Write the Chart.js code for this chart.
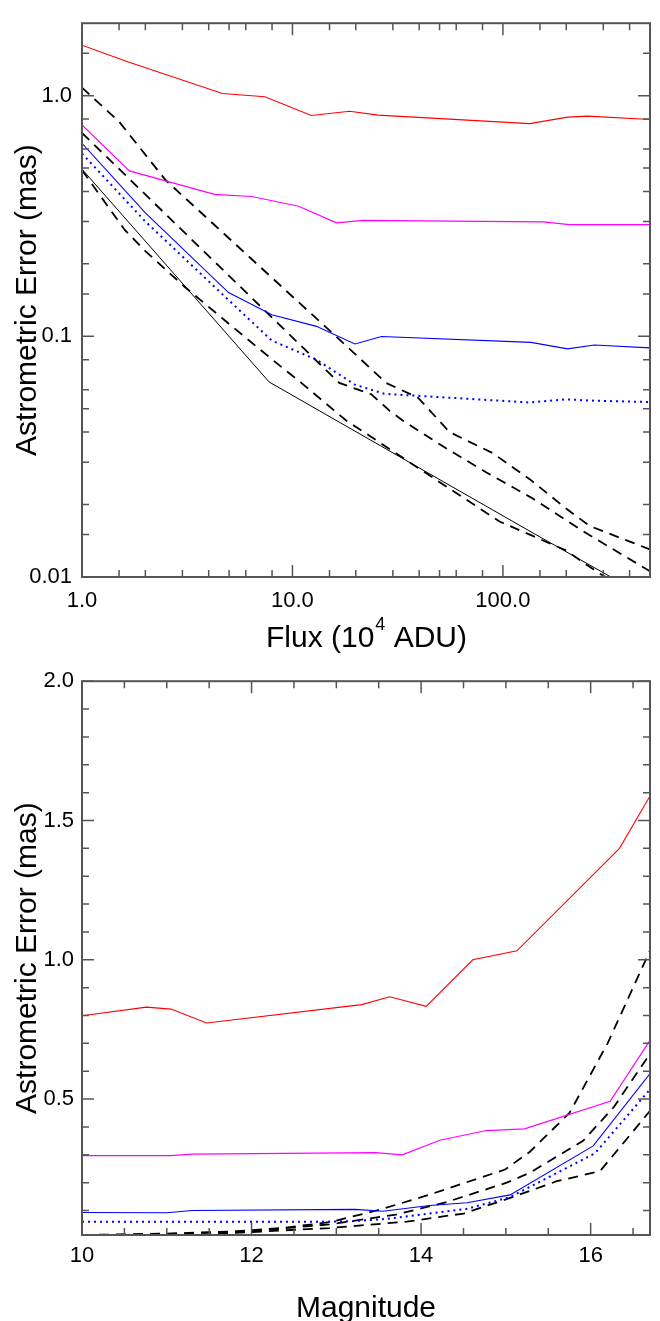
<!DOCTYPE html>
<html>
<head>
<meta charset="utf-8">
<title>Astrometric error vs flux and magnitude</title>
<script src="https://cdn.jsdelivr.net/npm/chart.js@4.4.1/dist/chart.umd.min.js"></script>
<style>
  html, body { margin: 0; padding: 0; background: #fff; overflow: hidden; width: 660px; height: 1321px; }
  #fluxChart { position: absolute; left: 0; top: 0; }
  #magChart { position: absolute; left: 0; top: 660px; }
</style>
</head>
<body>
<canvas id="fluxChart" width="660" height="660"></canvas>
<canvas id="magChart" width="660" height="680"></canvas>
<script>
// error (mas) against flux (1e4 ADU), pairs of [flux, error]
const fluxRed = [[1.0, 1.62], [1.66, 1.38], [4.65, 1.02], [7.39, 0.99], [12.3, 0.827], [18.7, 0.861], [25.5, 0.83], [134, 0.765], [203, 0.814], [253, 0.822], [525, 0.794]];
const fluxMagenta = [[1.0, 0.756], [1.68, 0.487], [4.26, 0.389], [6.41, 0.381], [10.7, 0.347], [16.2, 0.296], [21.6, 0.303], [155, 0.299], [207, 0.291], [525, 0.291]];
const fluxBlue = [[1.0, 0.634], [2.0, 0.326], [4.97, 0.152], [7.98, 0.123], [13.0, 0.110], [19.8, 0.0929], [26.5, 0.0998], [136, 0.0944], [203, 0.0887], [272, 0.092], [525, 0.0893]];
const fluxBlueDot = [[1.0, 0.575], [2.0, 0.30], [4.97, 0.1415], [7.98, 0.096], [13.0, 0.080], [19.8, 0.063], [27.3, 0.0577], [134, 0.0531], [199, 0.0547], [272, 0.054], [525, 0.0533]];
const fluxBlack = [[1.0, 0.495], [7.75, 0.0646], [26.5, 0.0349], [136, 0.0154], [525, 0.0079]];
const fluxDash1 = [[1.0, 1.08], [1.5, 0.78], [2.5, 0.445], [19.4, 0.086], [27.9, 0.064], [39.5, 0.0556], [55.8, 0.040], [89.5, 0.0327], [134, 0.0255], [199, 0.0193], [258, 0.0163], [525, 0.0128]];
const fluxDash2 = [[1.0, 0.70], [16.7, 0.064], [23.7, 0.0574], [29, 0.049], [33.4, 0.0447], [51.9, 0.0349], [83.5, 0.0272], [138.6, 0.0212], [240, 0.0155], [525, 0.0103]];
const fluxDash3 = [[1.0, 0.49], [1.6, 0.276], [2.0, 0.226], [3.09, 0.160], [5.16, 0.110], [8.27, 0.0783], [10.8, 0.065], [18.0, 0.0447], [25.0, 0.037], [46.4, 0.0259], [96.4, 0.0170], [199, 0.0129], [287, 0.01035], [525, 0.0077]];

// error (mas) against magnitude, pairs of [mag, error]
const magRed = [[10.0, 0.799], [10.76, 0.830], [11.05, 0.823], [11.47, 0.773], [13.30, 0.839], [13.63, 0.867], [14.06, 0.833], [14.61, 1.000], [15.13, 1.032], [16.34, 1.400], [16.8, 1.64]];
const magMagenta = [[10.0, 0.297], [11.04, 0.297], [11.31, 0.302], [13.46, 0.308], [13.78, 0.300], [14.22, 0.352], [14.77, 0.387], [15.22, 0.393], [16.23, 0.492], [16.8, 0.757]];
const magBlue = [[10.0, 0.093], [11.0, 0.092], [11.3, 0.100], [13.22, 0.104], [13.55, 0.097], [14.1, 0.118], [14.54, 0.128], [15.05, 0.156], [16.03, 0.332], [16.8, 0.63]];
const magBlueDot = [[10.0, 0.06], [11.0, 0.06], [12.9, 0.06], [13.22, 0.062], [13.6, 0.07], [14.0, 0.085], [14.54, 0.106], [15.05, 0.148], [16.05, 0.305], [16.8, 0.57]];
const magDash1 = [[10.0, 0.012], [11.0, 0.017], [11.8, 0.025], [12.36, 0.037], [12.92, 0.058], [13.48, 0.10], [14.06, 0.153], [14.99, 0.247], [15.28, 0.31], [15.75, 0.45], [16.2, 0.70], [16.8, 1.10]];
const magDash2 = [[10.0, 0.011], [11.0, 0.015], [12.0, 0.026], [12.92, 0.05], [13.7, 0.085], [14.3, 0.13], [15.01, 0.20], [15.28, 0.235], [15.91, 0.35], [16.27, 0.47], [16.8, 0.707]];
const magDash3 = [[10.0, 0.008], [11.5, 0.015], [12.92, 0.037], [13.83, 0.06], [14.5, 0.089], [15.05, 0.145], [15.6, 0.205], [16.11, 0.241], [16.8, 0.494]];

// axis ticks
const fluxTicks = [1, 10, 100];
const fluxTickLabels = ['1.0', '10.0', '100.0'];
const fluxMinor = [1.5, 2, 3, 4, 5, 6, 8, 15, 20, 30, 40, 50, 60, 80, 150, 200, 300, 400];
const errLogTicks = [0.01, 0.1, 1];
const errLogLabels = ['0.01', '0.1', '1.0'];
const errLogMinor = [0.015, 0.02, 0.03, 0.04, 0.05, 0.06, 0.08, 0.15, 0.2, 0.3, 0.4, 0.5, 0.6, 0.8, 1.5];
const magTicks = [10, 12, 14, 16];
const magTickLabels = ['10', '12', '14', '16'];
const magMinor = [10.5, 11, 11.5, 12.5, 13, 13.5, 14.5, 15, 15.5, 16.5];
const errLinTicks = [0.5, 1.0, 1.5, 2.0];
const errLinLabels = ['0.5', '1.0', '1.5', '2.0'];
const errLinMinor = [0.1, 0.2, 0.3, 0.4, 0.6, 0.7, 0.8, 0.9, 1.1, 1.2, 1.3, 1.4, 1.6, 1.7, 1.8, 1.9];

const FONT = "'Liberation Sans', Arial, Helvetica, sans-serif";

const toXY = pts => pts.map(p => ({ x: p[0], y: p[1] }));

const series = (pts, color, width, dash) => ({
    data: toXY(pts),
    borderColor: color,
    borderWidth: width,
    borderDash: dash || [],
    pointRadius: 0,
    showLine: true,
    fill: false,
    tension: 0
});

// box round the plot with inward ticks on all four sides
const frameTicks = {
    id: 'frameTicks',
    afterDatasetsDraw(chart, args, opts) {
        const { ctx, chartArea: a, scales } = chart;
        ctx.save();
        ctx.strokeStyle = '#555';
        ctx.lineWidth = 1.5;
        const mark = (scale, values, len) => {
            values.forEach(v => {
                const p = scale.getPixelForValue(v);
                ctx.beginPath();
                if (scale.isHorizontal()) {
                    ctx.moveTo(p, a.bottom); ctx.lineTo(p, a.bottom - len);
                    ctx.moveTo(p, a.top); ctx.lineTo(p, a.top + len);
                } else {
                    ctx.moveTo(a.left, p); ctx.lineTo(a.left + len, p);
                    ctx.moveTo(a.right, p); ctx.lineTo(a.right - len, p);
                }
                ctx.stroke();
            });
        };
        mark(scales.x, opts.xMajor, 12);
        mark(scales.x, opts.xMinor, 7);
        mark(scales.y, opts.yMajor, 12);
        mark(scales.y, opts.yMinor, 7);
        ctx.lineWidth = 2;
        ctx.strokeRect(a.left, a.top, a.right - a.left, a.bottom - a.top);
        ctx.restore();
    }
};

// x title with a raised exponent
const supTitle = {
    id: 'supTitle',
    afterDraw(chart, args, opts) {
        if (!opts.parts) return;
        const { ctx, chartArea: a } = chart;
        const [pre, sup, post] = opts.parts;
        ctx.save();
        ctx.fillStyle = '#000';
        ctx.textBaseline = 'alphabetic';
        ctx.textAlign = 'left';
        const big = `30px ${FONT}`, small = `18px ${FONT}`;
        ctx.font = big;
        const w1 = ctx.measureText(pre).width, w3 = ctx.measureText(post).width;
        ctx.font = small;
        const w2 = ctx.measureText(sup).width;
        let x = (a.left + a.right) / 2 - (w1 + w2 + w3) / 2;
        const y = opts.baseline;
        ctx.font = big; ctx.fillText(pre, x, y); x += w1 + 1;
        ctx.font = small; ctx.fillText(sup, x, y - 17); x += w2;
        ctx.font = big; ctx.fillText(post, x, y);
        ctx.restore();
    }
};

const tickFont = { family: FONT, size: 22 };
const titleFont = { family: FONT, size: 30 };

const axis = (type, min, max, ticks, labels, opts) => ({
    type, min, max,
    grid: { display: false, drawTicks: false },
    border: { display: false },
    afterBuildTicks: scale => { scale.ticks = ticks.map(v => ({ value: v })); },
    afterFit: scale => {
        if (scale.isHorizontal()) scale.height = opts.size; else scale.width = opts.size;
    },
    ticks: {
        autoSkip: false, maxRotation: 0, color: '#000', font: tickFont, padding: opts.pad,
        callback: v => labels[ticks.indexOf(v)]
    },
    title: opts.title ? {
        display: true, text: opts.title, color: '#000', font: titleFont, padding: opts.titlePad
    } : { display: false }
});

new Chart(document.getElementById('fluxChart'), {
    type: 'scatter',
    data: {
        datasets: [
            series(fluxRed, '#ff0000', 1.1),
            series(fluxMagenta, '#ff00ff', 1.2),
            series(fluxBlue, '#0000ff', 1.1),
            series(fluxBlueDot, '#0000ff', 2, [2, 4]),
            series(fluxBlack, '#000000', 1),
            series(fluxDash1, '#000000', 1.8, [10, 7]),
            series(fluxDash2, '#000000', 1.8, [10, 7]),
            series(fluxDash3, '#000000', 1.8, [10, 7])
        ]
    },
    options: {
        responsive: false,
        animation: false,
        layout: { padding: { top: 10, right: 10, bottom: 0, left: 0 } },
        scales: {
            x: axis('logarithmic', 1, 500, fluxTicks, fluxTickLabels, { size: 83, pad: 11 }),
            y: axis('logarithmic', 0.01, 2, errLogTicks, errLogLabels,
                { size: 82, pad: 10, title: 'Astrometric Error (mas)', titlePad: { top: 9.5, bottom: 0 } })
        },
        plugins: {
            legend: { display: false },
            tooltip: { enabled: false },
            frameTicks: { xMajor: fluxTicks, xMinor: fluxMinor, yMajor: errLogTicks, yMinor: errLogMinor },
            supTitle: { parts: ['Flux (10', '4', ' ADU)'], baseline: 647 }
        }
    },
    plugins: [frameTicks, supTitle]
});

new Chart(document.getElementById('magChart'), {
    type: 'scatter',
    data: {
        datasets: [
            series(magRed, '#ff0000', 1.1),
            series(magMagenta, '#ff00ff', 1.2),
            series(magBlue, '#0000ff', 1.1),
            series(magBlueDot, '#0000ff', 2, [2, 4]),
            series(magDash1, '#000000', 1.8, [10, 7]),
            series(magDash2, '#000000', 1.8, [10, 7]),
            series(magDash3, '#000000', 1.8, [10, 7])
        ]
    },
    options: {
        responsive: false,
        animation: false,
        layout: { padding: { top: 8, right: 10, bottom: 0, left: 0 } },
        scales: {
            x: axis('linear', 10, 16.7, magTicks, magTickLabels,
                { size: 105, pad: 8, title: 'Magnitude', titlePad: { top: 0, bottom: 13 } }),
            y: axis('linear', 0.012, 2, errLinTicks, errLinLabels,
                { size: 82, pad: 8, title: 'Astrometric Error (mas)', titlePad: { top: 9.5, bottom: 0 } })
        },
        plugins: {
            legend: { display: false },
            tooltip: { enabled: false },
            frameTicks: { xMajor: magTicks, xMinor: magMinor, yMajor: errLinTicks, yMinor: errLinMinor },
            supTitle: {}
        }
    },
    plugins: [frameTicks, supTitle]
});
</script>
</body>
</html>
